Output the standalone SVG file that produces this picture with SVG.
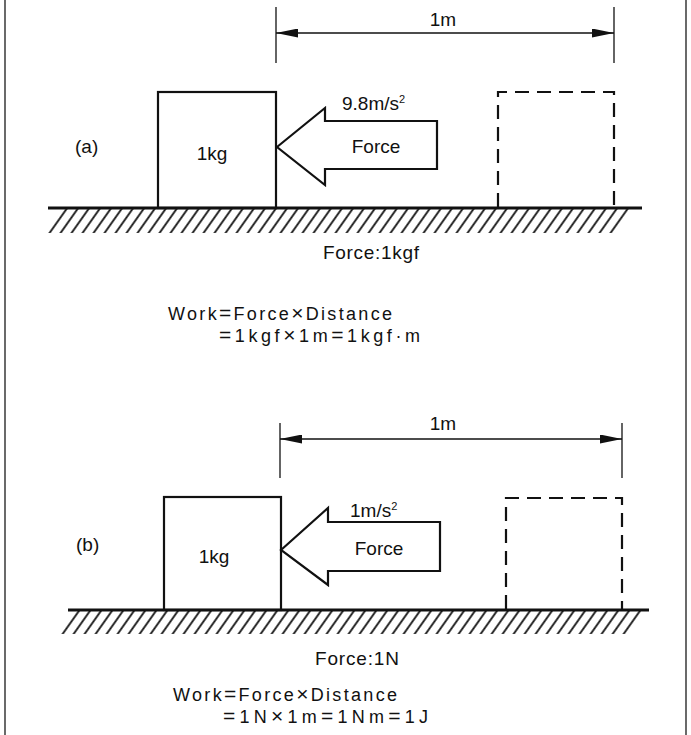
<svg xmlns="http://www.w3.org/2000/svg" width="691" height="735" viewBox="0 0 691 735">
<style>
text{font-family:"Liberation Sans",Arial,sans-serif;font-size:19px;fill:#111}
.f{font-size:18px}
.op{font-size:21px}
.sup{font-size:11px}
.solid{fill:none;stroke:#111;stroke-width:2.2}
.dash{fill:none;stroke:#111;stroke-width:2.2;stroke-dasharray:14 8}
.ground{stroke:#111;stroke-width:2.8}
.ext{stroke:#111;stroke-width:1.3}
.dim{stroke:#111;stroke-width:1.6;marker-start:url(#ah);marker-end:url(#ah)}
.frame{stroke:#444;stroke-width:1.6}
.arrow{fill:#fff;stroke:#111;stroke-width:2.2;stroke-linejoin:miter}
</style>
<defs>
<marker id="ah" viewBox="0 0 22 9" refX="22" refY="4.5" markerWidth="22" markerHeight="9" markerUnits="userSpaceOnUse" orient="auto-start-reverse">
<path d="M0,0 L22,4.5 L0,9 z" fill="#111"/>
</marker>
<pattern id="hatch" patternUnits="userSpaceOnUse" width="11" height="40" patternTransform="skewX(-35.3)">
<line x1="5.5" y1="0" x2="5.5" y2="40" stroke="#111" stroke-width="2.2"/>
</pattern>
</defs>
<rect width="691" height="735" fill="#fff"/>
<g id="frame">
<line class="frame" x1="5" y1="0" x2="5" y2="735"/>
<line class="frame" x1="686" y1="0" x2="686" y2="735"/>
</g>

<!-- Panel (a) -->
<g id="ground-a">
<polygon points="60,209 632,209 615,233 43,233" fill="url(#hatch)"/>
<line class="ground" x1="48" y1="208" x2="642" y2="208"/>
</g>
<g id="label-a"><text x="75" y="153">(a)</text></g>
<g id="box-a">
<rect class="solid" x="158" y="92" width="118" height="116"/>
<text x="212" y="160" text-anchor="middle">1kg</text>
</g>
<g id="force-a">
<polygon class="arrow" points="277,147 325,108 325,121 437,121 437,169 325,169 325,185"/>
<text x="342" y="110">9.8m/s<tspan class="sup" dy="-7">2</tspan></text>
<text x="376" y="153" text-anchor="middle">Force</text>
</g>
<g id="ghost-a">
<path class="dash" d="M498,207 V92 H614 V207"/>
</g>
<g id="dim-a">
<line class="ext" x1="276" y1="7" x2="276" y2="63"/>
<line class="ext" x1="614" y1="7" x2="614" y2="63"/>
<text x="443" y="26" text-anchor="middle">1m</text>
</g>
<g id="text-a">
<text x="323" y="259" textLength="96" lengthAdjust="spacing">Force:1kgf</text>
<text class="f" x="168" y="320" textLength="224" lengthAdjust="spacing">Work<tspan class="op">=</tspan>Force<tspan class="op">×</tspan>Distance</text>
<text class="f" x="219" y="342" textLength="201" lengthAdjust="spacing"><tspan class="op">=</tspan>1kgf<tspan class="op">×</tspan>1m<tspan class="op">=</tspan>1kgf·m</text>
</g>

<!-- Panel (b) -->
<g id="ground-b">
<polygon points="75,611 647,611 630,634 58,634" fill="url(#hatch)"/>
<line class="ground" x1="68" y1="610" x2="649" y2="610"/>
</g>
<g id="label-b"><text x="76" y="551">(b)</text></g>
<g id="box-b">
<rect class="solid" x="164" y="497" width="117" height="113"/>
<text x="214" y="563" text-anchor="middle">1kg</text>
</g>
<g id="force-b">
<polygon class="arrow" points="281,550 328,508 328,522 440,522 440,571 328,571 328,585"/>
<text x="350" y="517">1m/s<tspan class="sup" dy="-7">2</tspan></text>
<text x="379" y="555" text-anchor="middle">Force</text>
</g>
<g id="ghost-b">
<path class="dash" d="M506,609 V498 H622 V609"/>
</g>
<g id="dim-b">
<line class="ext" x1="280" y1="423" x2="280" y2="478"/>
<line class="ext" x1="622" y1="423" x2="622" y2="478"/>
<text x="443" y="430" text-anchor="middle">1m</text>
</g>
<g id="text-b">
<text x="315" y="665" textLength="84" lengthAdjust="spacing">Force:1N</text>
<text class="f" x="173" y="701" textLength="224" lengthAdjust="spacing">Work<tspan class="op">=</tspan>Force<tspan class="op">×</tspan>Distance</text>
<text class="f" x="223" y="723" textLength="205" lengthAdjust="spacing"><tspan class="op">=</tspan>1N<tspan class="op">×</tspan>1m<tspan class="op">=</tspan>1Nm<tspan class="op">=</tspan>1J</text>
</g>

<g id="connectors">
<line class="dim" x1="276" y1="33" x2="614" y2="33"/>
<line class="dim" x1="280" y1="439" x2="622" y2="439"/>
</g>
</svg>
